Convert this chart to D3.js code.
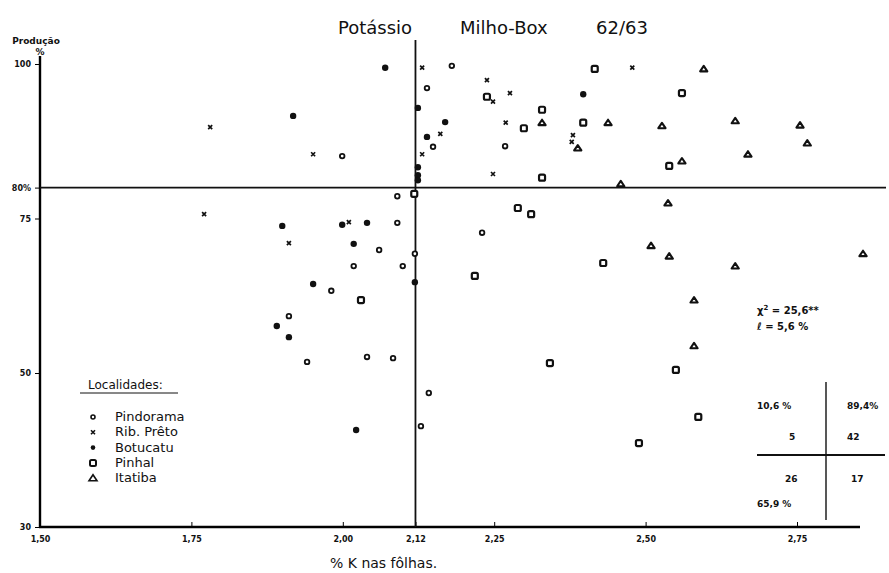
<!DOCTYPE html>
<html>
<head>
<meta charset="utf-8">
<title>Potássio Milho-Box 62/63</title>
<script src="https://d3js.org/d3.v7.min.js"></script>
<style>
  body { margin: 0; background: #fff; }
  text { font-family: "DejaVu Sans", sans-serif; fill: #111; }
</style>
</head>
<body>
<svg id="chart"></svg>
<script>
// data: [% K in leaves, % production]
var pindorama = [[2.180,99.7],[2.139,96.1],[2.149,86.6],[1.999,85.1],[2.268,86.7],[2.090,78.6],
  [2.090,74.3],[2.060,69.9],[2.119,69.3],[2.018,67.3],[2.099,67.3],[1.981,63.3],[1.911,59.2],
  [1.941,51.8],[2.040,52.6],[2.083,52.4],[2.142,47.4],[2.129,43.1],[2.230,72.7]];
var ribPreto = [[2.131,99.4],[1.781,89.8],[2.161,88.7],[1.951,85.4],[2.131,85.4],[2.478,99.4],
  [2.238,97.4],[2.248,93.9],[2.276,95.3],[2.269,90.5],[2.380,88.5],[2.378,87.4],[2.248,82.2],
  [1.771,75.7],[2.010,74.4],[1.911,71.0]];
var botucatu = [[2.070,99.4],[1.918,91.6],[2.124,92.9],[2.169,90.6],[2.139,88.2],[2.124,83.3],
  [2.124,82.0],[2.124,81.2],[2.397,95.1],[1.900,73.8],[1.999,74.0],[2.040,74.3],[2.018,70.9],
  [2.119,64.7],[1.951,64.4],[1.891,57.6],[1.911,55.8],[2.022,42.6]];
var pinhal = [[2.118,79.0],[2.416,99.2],[2.238,94.7],[2.560,95.3],[2.329,92.6],[2.299,89.6],
  [2.397,90.5],[2.539,83.5],[2.329,81.6],[2.030,61.8],[2.289,76.7],[2.311,75.7],[2.430,67.8],
  [2.218,65.7],[2.342,51.6],[2.550,50.5],[2.587,44.3],[2.489,40.9]];
var itatiba = [[2.596,99.2],[2.329,90.5],[2.438,90.5],[2.527,90.0],[2.648,90.8],[2.755,90.1],
  [2.388,86.4],[2.767,87.2],[2.669,85.4],[2.560,84.3],[2.459,80.6],[2.537,77.5],[2.509,70.6],
  [2.539,68.9],[2.859,69.3],[2.648,67.3],[2.580,61.8],[2.580,54.4]];

var xTicks = [1.50, 1.75, 2.00, 2.12, 2.25, 2.50, 2.75];
var yTicks = [30, 50, 75, 80, 100];
var yTickLabels = ["30", "50", "75", "80%", "100"];
var criticalK = 2.12;
var criticalProd = 80;

var legendNames = ["Pindorama", "Rib. Prêto", "Botucatu", "Pinhal", "Itatiba"];
var tableTexts = [["10,6 %", 757, 409], ["89,4%", 847, 409], ["5", 789, 440], ["42", 847, 440],
  ["26", 785, 482], ["17", 851, 482], ["65,9 %", 757, 507]];

var W = 889, H = 573;
var svg = d3.select("#chart").attr("width", W).attr("height", H);

var x = d3.scaleLinear().domain([1.5, 2.75]).range([40, 797]);
// hand drawn axis: the stretch below 50 is wider than above it
var y = d3.scaleLinear().domain([30, 50, 100]).range([527, 373, 64]);

// title
svg.append("text").attr("x", 338).attr("y", 34).style("font-size", "18px").text("Potássio");
svg.append("text").attr("x", 460).attr("y", 34).style("font-size", "18px").text("Milho-Box");
svg.append("text").attr("x", 596).attr("y", 34).style("font-size", "18px").text("62/63");

// y axis title
svg.append("text").attr("x", 36).attr("y", 44).attr("text-anchor", "middle")
  .style("font-size", "9px").style("font-weight", "bold").text("Produção");
svg.append("text").attr("x", 40).attr("y", 55).attr("text-anchor", "middle")
  .style("font-size", "9px").style("font-weight", "bold").text("%");

// axes
var yAxis = svg.append("g").attr("transform", "translate(40,0)")
  .call(d3.axisLeft(y).tickValues(yTicks).tickSize(5).tickPadding(4)
    .tickFormat(function(d, i) { return yTickLabels[i]; }));
yAxis.select(".domain").attr("d", "M0," + 56 + "V" + 528).attr("stroke-width", 2.4);
yAxis.selectAll("text").style("font-size", "8px").style("font-weight", "bold");

var xAxis = svg.append("g").attr("transform", "translate(0,527)")
  .call(d3.axisBottom(x).tickValues(xTicks).tickSize(-5).tickPadding(9)
    .tickFormat(function(d) { return d3.format(".2f")(d).replace(".", ","); }));
xAxis.select(".domain").attr("d", "M39,0H860").attr("stroke-width", 2.4);
xAxis.selectAll("text").style("font-size", "8px").style("font-weight", "bold");

// critical level lines
svg.append("line").attr("x1", x(criticalK)).attr("x2", x(criticalK))
  .attr("y1", 40).attr("y2", 527).attr("stroke", "#111").attr("stroke-width", 1.8);
svg.append("line").attr("x1", 40).attr("x2", 886)
  .attr("y1", y(criticalProd)).attr("y2", y(criticalProd)).attr("stroke", "#111").attr("stroke-width", 1.8);

// points
var pts = svg.append("g");
pts.selectAll(".pin").data(pindorama).enter().append("circle")
  .attr("cx", function(d) { return x(d[0]); }).attr("cy", function(d) { return y(d[1]); })
  .attr("r", 2.3).attr("fill", "#fff").attr("stroke", "#111").attr("stroke-width", 1.8);
pts.selectAll(".bot").data(botucatu).enter().append("circle")
  .attr("cx", function(d) { return x(d[0]); }).attr("cy", function(d) { return y(d[1]); })
  .attr("r", 3.2).attr("fill", "#111");
pts.selectAll(".rib").data(ribPreto).enter().append("path")
  .attr("transform", function(d) { return "translate(" + x(d[0]) + "," + y(d[1]) + ")"; })
  .attr("d", "M-2,-2L2,2M-2,2L2,-2").attr("stroke", "#111").attr("stroke-width", 1.7);
pts.selectAll(".sq").data(pinhal).enter().append("rect")
  .attr("x", function(d) { return x(d[0]) - 3; }).attr("y", function(d) { return y(d[1]) - 3; })
  .attr("width", 6).attr("height", 6).attr("rx", 1.5)
  .attr("fill", "#fff").attr("stroke", "#111").attr("stroke-width", 2.2);
pts.selectAll(".tri").data(itatiba).enter().append("path")
  .attr("transform", function(d) { return "translate(" + x(d[0]) + "," + y(d[1]) + ")"; })
  .attr("d", "M0,-3L3.6,2.4H-3.6Z").attr("fill", "#fff").attr("stroke", "#111")
  .attr("stroke-width", 2.1).attr("stroke-linejoin", "round");

// legend
var lg = svg.append("g");
lg.append("text").attr("x", 88).attr("y", 389).style("font-size", "12px").text("Localidades:");
lg.append("line").attr("x1", 80).attr("x2", 178).attr("y1", 393).attr("y2", 393)
  .attr("stroke", "#111").attr("stroke-width", 1);
legendNames.forEach(function(name, i) {
  var cy = 417 + i * 15.3;
  lg.append("text").attr("x", 115).attr("y", cy + 4).style("font-size", "13px").text(name);
  var m = lg.append("g").attr("transform", "translate(93," + cy + ")");
  if (i == 0) m.append("circle").attr("r", 2).attr("fill", "#fff").attr("stroke", "#111").attr("stroke-width", 1.6);
  if (i == 1) m.append("path").attr("d", "M-2,-2L2,2M-2,2L2,-2").attr("stroke", "#111").attr("stroke-width", 1.6);
  if (i == 2) m.append("circle").attr("r", 2.3).attr("fill", "#111");
  if (i == 3) m.append("rect").attr("x", -3).attr("y", -3).attr("width", 6).attr("height", 6).attr("rx", 1.5)
    .attr("fill", "#fff").attr("stroke", "#111").attr("stroke-width", 2);
  if (i == 4) m.append("path").attr("d", "M0,-3.5L4,2.5H-4Z").attr("fill", "#fff").attr("stroke", "#111").attr("stroke-width", 1.6);
});

// statistics
svg.append("text").attr("x", 757).attr("y", 314).style("font-size", "10px").style("font-weight", "bold")
  .html("χ<tspan dy='-4' style='font-size:7px'>2</tspan><tspan dy='4'> = 25,6**</tspan>");
svg.append("text").attr("x", 757).attr("y", 330).style("font-size", "10px").style("font-weight", "bold")
  .text("ℓ = 5,6 %");

// contingency table
svg.append("line").attr("x1", 826).attr("x2", 826).attr("y1", 382).attr("y2", 520)
  .attr("stroke", "#111").attr("stroke-width", 1.4);
svg.append("line").attr("x1", 757).attr("x2", 885).attr("y1", 455).attr("y2", 455)
  .attr("stroke", "#111").attr("stroke-width", 1.8);
svg.selectAll(".tt").data(tableTexts).enter().append("text")
  .attr("x", function(d) { return d[1]; }).attr("y", function(d) { return d[2]; })
  .style("font-size", "9px").style("font-weight", "bold").text(function(d) { return d[0]; });

// x axis title
svg.append("text").attr("x", 330).attr("y", 568).style("font-size", "14px").text("% K nas fôlhas.");
</script>
</body>
</html>
